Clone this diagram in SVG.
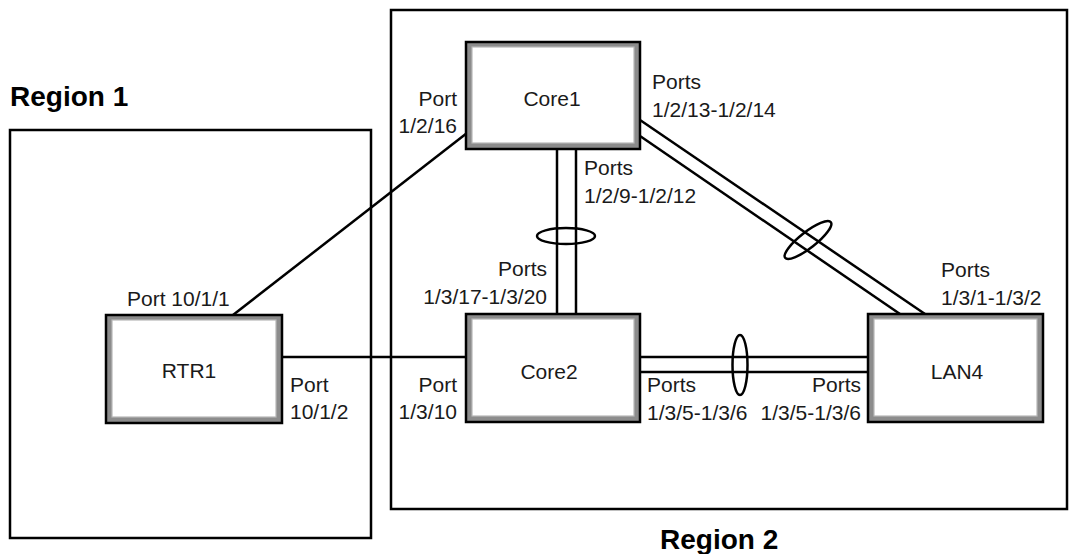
<svg xmlns="http://www.w3.org/2000/svg" width="1078" height="554" viewBox="0 0 1078 554">
<style>
.region{fill:none;stroke:#000;stroke-width:2.5}
.outer{fill:#8c8c8c;stroke:#000;stroke-width:2.5}
.inner{fill:#fff;stroke:#b8b8b8;stroke-width:1.2}
.ln{fill:none;stroke:#000;stroke-width:2.5}
.lag{fill:none;stroke:#000;stroke-width:2.5}
text{font-family:"Liberation Sans",Arial,sans-serif;font-size:21px;fill:#1a1a1a}
.rl{font-weight:bold;font-size:28px;fill:#000}
.nl{text-anchor:middle}
.r{text-anchor:end}
</style>
<rect width="1078" height="554" fill="#fff"/>
<g id="region1">
<rect class="region" x="10" y="130" width="361" height="408"/>
<text class="rl" x="10" y="106">Region 1</text>
</g>
<g id="region2">
<rect class="region" x="391" y="10" width="676" height="499"/>
<text class="rl" x="660" y="549">Region 2</text>
</g>
<g id="connectors">
<line class="ln" x1="233" y1="315" x2="467" y2="133"/>
<line class="ln" x1="282" y1="357" x2="466" y2="357"/>
<line class="ln" x1="557" y1="149" x2="557" y2="314"/>
<line class="ln" x1="576" y1="149" x2="576" y2="314"/>
<line class="ln" x1="640" y1="120" x2="925" y2="314"/>
<line class="ln" x1="640" y1="136" x2="900" y2="314"/>
<line class="ln" x1="640" y1="357" x2="868" y2="357"/>
<line class="ln" x1="640" y1="372" x2="868" y2="372"/>
<ellipse class="lag" cx="566" cy="236" rx="29" ry="8"/>
<ellipse class="lag" cx="808" cy="240" rx="29" ry="8" transform="rotate(-38 808 240)"/>
<ellipse class="lag" cx="740" cy="365" rx="7.5" ry="30"/>
</g>
<g id="core1">
<rect class="outer" x="466" y="42" width="174" height="107"/>
<rect class="inner" x="472" y="47" width="162" height="96"/>
<text class="nl" x="552" y="106">Core1</text>
</g>
<g id="core2">
<rect class="outer" x="466" y="314" width="174" height="108"/>
<rect class="inner" x="472" y="319" width="162" height="97"/>
<text class="nl" x="549" y="379">Core2</text>
</g>
<g id="rtr1">
<rect class="outer" x="106" y="315" width="176" height="108"/>
<rect class="inner" x="112" y="320" width="164" height="97"/>
<text class="nl" x="189" y="378">RTR1</text>
</g>
<g id="lan4">
<rect class="outer" x="868" y="314" width="175" height="108"/>
<rect class="inner" x="874" y="319" width="163" height="97"/>
<text class="nl" x="957" y="379">LAN4</text>
</g>
<g id="labels">
<text class="r" x="457" y="106">Port</text>
<text class="r" x="457" y="133">1/2/16</text>
<text x="652" y="89">Ports</text>
<text x="652" y="117">1/2/13-1/2/14</text>
<text x="584" y="175">Ports</text>
<text x="584" y="203">1/2/9-1/2/12</text>
<text class="r" x="547" y="276">Ports</text>
<text class="r" x="547" y="304">1/3/17-1/3/20</text>
<text x="941" y="277">Ports</text>
<text x="941" y="305">1/3/1-1/3/2</text>
<text x="127" y="306">Port 10/1/1</text>
<text x="290" y="392">Port</text>
<text x="290" y="419">10/1/2</text>
<text class="r" x="457" y="392">Port</text>
<text class="r" x="457" y="419">1/3/10</text>
<text x="647" y="392">Ports</text>
<text x="647" y="420">1/3/5-1/3/6</text>
<text class="r" x="861" y="392">Ports</text>
<text class="r" x="861" y="420">1/3/5-1/3/6</text>
</g>
</svg>
